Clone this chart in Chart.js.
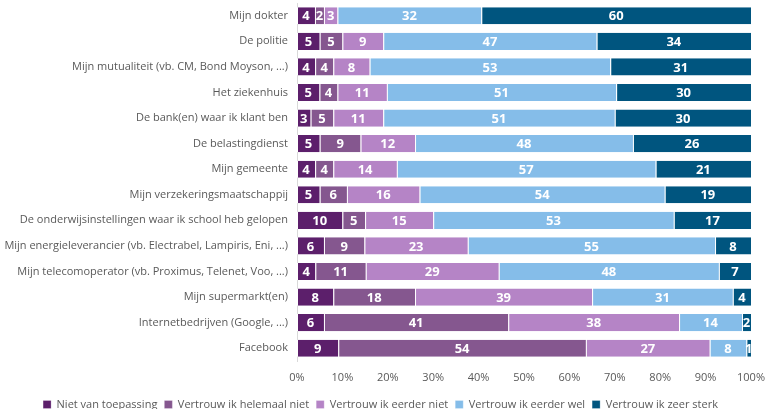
<!DOCTYPE html>
<html>
<head>
<meta charset="utf-8">
<script src="https://cdn.jsdelivr.net/npm/chart.js@4"></script>
<style>
  html, body { margin: 0; padding: 0; background: #ffffff; }
  #wrap { width: 765px; height: 409px; position: relative; }
</style>
</head>
<body>
<div id="wrap"><canvas id="trustChart"></canvas></div>
<script>
const categories = [
    'Mijn dokter',
    'De politie',
    'Mijn mutualiteit (vb. CM, Bond Moyson, ...)',
    'Het ziekenhuis',
    'De bank(en) waar ik klant ben',
    'De belastingdienst',
    'Mijn gemeente',
    'Mijn verzekeringsmaatschappij',
    'De onderwijsinstellingen waar ik school heb gelopen',
    'Mijn energieleverancier (vb. Electrabel, Lampiris, Eni, ...)',
    'Mijn telecomoperator (vb. Proximus, Telenet, Voo, ...)',
    'Mijn supermarkt(en)',
    'Internetbedrijven (Google, ...)',
    'Facebook'
];

const seriesNames = [
    'Niet van toepassing',
    'Vertrouw ik helemaal niet',
    'Vertrouw ik eerder niet',
    'Vertrouw ik eerder wel',
    'Vertrouw ik zeer sterk'
];

const nietVanToepassing = [4, 5, 4, 5, 3, 5, 4, 5, 10, 6, 4, 8, 6, 9];
const helemaalNiet      = [2, 5, 4, 4, 5, 9, 4, 6, 5, 9, 11, 18, 41, 54];
const eerderNiet        = [3, 9, 8, 11, 11, 12, 14, 16, 15, 23, 29, 39, 38, 27];
const eerderWel         = [32, 47, 53, 51, 51, 48, 57, 54, 53, 55, 48, 31, 14, 8];
const zeerSterk         = [60, 34, 31, 30, 30, 26, 21, 19, 17, 8, 7, 4, 2, 1];

const tickLabels = ['0%', '10%', '20%', '30%', '40%', '50%', '60%', '70%', '80%', '90%', '100%'];

const colors = ['#5c1f6b', '#85578f', '#b584c6', '#85bde9', '#00557f'];

const raw = [nietVanToepassing, helemaalNiet, eerderNiet, eerderWel, zeerSterk];

// 100% stacked: each row scaled to its own total, labels show the raw numbers
const rowTotals = categories.map((_, i) => raw.reduce((s, arr) => s + arr[i], 0));

const datasets = raw.map((arr, k) => ({
    label: seriesNames[k],
    data: arr.map((v, i) => v / rowTotals[i] * 100),
    rawValues: arr,
    backgroundColor: colors[k],
    borderColor: '#ffffff',
    borderWidth: { left: 1, right: 0, top: 0, bottom: 0 },
    borderSkipped: false,
    barPercentage: 0.67,
    categoryPercentage: 1
}));

const valueLabels = {
    id: 'valueLabels',
    afterDatasetsDraw(chart) {
        const c = chart.ctx;
        c.save();
        c.font = 'bold 13px "Open Sans", sans-serif';
        c.fillStyle = '#ffffff';
        c.textAlign = 'center';
        c.textBaseline = 'middle';
        chart.data.datasets.forEach((ds, k) => {
            const meta = chart.getDatasetMeta(k);
            meta.data.forEach((bar, i) => {
                const x = (bar.x + bar.base) / 2;
                c.fillText(String(ds.rawValues[i]), x, bar.y + 1);
            });
        });
        c.restore();
    }
};

// keep the legend thin so it sits at the very bottom
const legendHeight = {
    id: 'legendHeight',
    beforeInit(chart) {
        const fit = chart.legend.fit;
        chart.legend.fit = function () {
            fit.bind(chart.legend)();
            this.height = 17;
        };
    }
};

new Chart(document.getElementById('trustChart').getContext('2d'), {
    type: 'bar',
    data: {
        labels: categories,
        datasets: datasets
    },
    options: {
        indexAxis: 'y',
        responsive: true,
        maintainAspectRatio: false,
        animation: false,
        layout: {
            padding: { top: 3, right: 4, left: 0, bottom: 0 }
        },
        scales: {
            x: {
                stacked: true,
                min: 0,
                max: 100,
                grid: { display: false, drawTicks: false },
                border: { display: false },
                ticks: {
                    stepSize: 10,
                    color: '#595959',
                    font: { family: '"Open Sans", sans-serif', size: 11 },
                    padding: 10,
                    callback: (v, idx) => tickLabels[idx]
                },
                afterFit(scale) {
                    scale.height = 31;
                    scale.paddingRight = 14;
                }
            },
            y: {
                stacked: true,
                grid: { display: false, drawTicks: false },
                border: { display: true, color: '#d9d9d9', width: 1 },
                ticks: {
                    color: '#595959',
                    font: { family: '"Open Sans", sans-serif', size: 11 },
                    padding: 9
                },
                afterFit(scale) {
                    scale.width = 297;
                    scale.paddingTop = 0;
                    scale.paddingBottom = 0;
                }
            }
        },
        plugins: {
            legend: {
                position: 'bottom',
                labels: {
                    boxWidth: 8,
                    boxHeight: 8,
                    padding: 7,
                    color: '#595959',
                    font: { family: '"Open Sans", sans-serif', size: 11 }
                }
            },
            tooltip: { enabled: false }
        }
    },
    plugins: [valueLabels, legendHeight]
});
</script>
</body>
</html>
